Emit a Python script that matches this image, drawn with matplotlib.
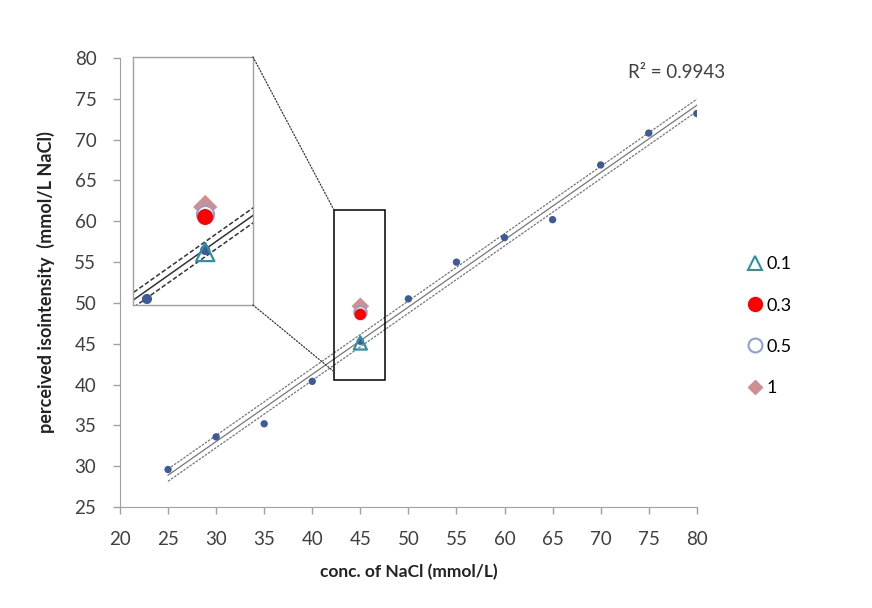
import numpy as np
import matplotlib
matplotlib.use("Agg")
import matplotlib.pyplot as plt
from matplotlib.patches import Rectangle, ConnectionPatch
from matplotlib.lines import Line2D

plt.rcParams['font.family'] = ['Lato', 'DejaVu Sans']

# reference NaCl series
nacl_x = [25, 30, 35, 40, 45, 50, 55, 60, 65, 70, 75, 80]
nacl_y = [29.6, 33.6, 35.2, 40.4, 45.3, 50.5, 55.0, 58.0, 60.2, 66.9, 70.8, 73.2]

# test samples at 45 mmol/L
sample_x = 45
sample_labels = ['0.1', '0.3', '0.5', '1']
sample_y = [45.1, 48.6, 48.9, 49.6]

r2_text = 'R² = 0.9943'
x_ticks = list(range(20, 81, 5))
y_ticks = list(range(25, 81, 5))

fig = plt.figure(figsize=(8.72, 6.08), dpi=100)
ax = fig.add_axes([0.1376, 0.166, 0.6615, 0.7386])

# regression + band
xa = np.array(nacl_x, float); ya = np.array(nacl_y, float)
b, a = np.polyfit(xa, ya, 1)
xl = np.linspace(25, 80, 200)
yl = a + b * xl
band_half = 0.75

def draw_fit(axx, col, lw, dash):
    axx.plot(xl, yl, color=col, lw=lw, zorder=2)
    axx.plot(xl, yl + band_half, color=col, lw=lw, ls=dash, zorder=2)
    axx.plot(xl, yl - band_half, color=col, lw=lw, ls=dash, zorder=2)

cols = dict(dot='#3b5b99', tri='#2f8fa3', red='#ff0000', circ='#8fa0d0', dia='#cf8f90')

def draw_points(axx, scale):
    axx.scatter(nacl_x, nacl_y, s=28 * scale, color=cols['dot'], zorder=3, edgecolors='none')
    axx.scatter([sample_x], [sample_y[3]], marker='D', s=80 * scale, color=cols['dia'], zorder=4, edgecolors='none')
    axx.scatter([sample_x], [sample_y[2]], marker='o', s=80 * scale, facecolor='white', edgecolors=cols['circ'], linewidths=1.5, zorder=5)
    axx.scatter([sample_x], [sample_y[1]], marker='o', s=70 * scale, color=cols['red'], zorder=6, edgecolors='none')
    axx.scatter([sample_x], [sample_y[0]], marker='^', s=90 * scale, facecolor='none', edgecolors=cols['tri'], linewidths=1.6, zorder=6)

draw_fit(ax, '#777777', 0.9, (0, (2, 1)))
draw_points(ax, 1.0)

ax.set_xlim(20, 80)
ax.set_ylim(25, 80)
ax.set_xticks(x_ticks)
ax.set_yticks(y_ticks)
ax.tick_params(axis='both', labelsize=13.5, colors='#a0a0a0', labelcolor='#404040', length=5, width=1)
ax.tick_params(axis='x', pad=12)
ax.tick_params(axis='y', pad=12)
for sp in ['top', 'right']:
    ax.spines[sp].set_visible(False)
for sp in ['left', 'bottom']:
    ax.spines[sp].set_color('#a0a0a0')
ax.set_xlabel('conc. of NaCl (mmol/L)', fontsize=12.5, fontweight='bold', color='#222222', labelpad=12)
ax.set_ylabel('perceived isointensity  (mmol/L NaCl)', fontsize=13, fontweight='bold', color='#222222', labelpad=14)

ax.text(0.965, 0.955, r2_text, transform=ax.transAxes, fontsize=13.5, color='#404040', ha='center')

# zoom rectangle
rect_x0, rect_x1, rect_y0, rect_y1 = 42.25, 47.55, 40.6, 61.4
ax.add_patch(Rectangle((rect_x0, rect_y0), rect_x1 - rect_x0, rect_y1 - rect_y0,
                       fill=False, ec='black', lw=1.1, zorder=7))

# inset
ins = fig.add_axes([133 / 872, 1 - 305 / 608, 120 / 872, 248 / 608])
draw_fit(ins, '#333333', 1.1, (0, (3, 1.5)))
draw_points(ins, 1.9)
ins.set_xlim(38.8, 49.1)
ins.set_ylim(39.8, 64.6)
ins.set_xticks([]); ins.set_yticks([])
for sp in ins.spines.values():
    sp.set_color('#a0a0a0')
    sp.set_linewidth(1)

for (xi, yi), (xr, yr) in [((1, 1), (rect_x0, rect_y1)), ((1, 0), (rect_x0, rect_y0 + 1.0))]:
    con = ConnectionPatch(xyA=(xi, yi), coordsA=ins.transAxes, xyB=(xr, yr), coordsB=ax.transData,
                          ls=(0, (1, 1.5)), color='#333333', lw=0.9)
    fig.add_artist(con)

# legend
handles = [
    Line2D([], [], marker='^', ls='none', ms=10, mfc='none', mec=cols['tri'], mew=1.5),
    Line2D([], [], marker='o', ls='none', ms=10, mfc=cols['red'], mec=cols['red']),
    Line2D([], [], marker='o', ls='none', ms=10, mfc='white', mec=cols['circ'], mew=1.5),
    Line2D([], [], marker='D', ls='none', ms=7, mfc=cols['dia'], mec=cols['dia']),
]
fig.legend(handles, sample_labels, loc='upper left', bbox_to_anchor=(728 / 872, 1 - 240 / 608),
           frameon=False, fontsize=13, handletextpad=0.05, labelspacing=1.4, handlelength=1.2)

fig.savefig('out.png', dpi=100)
